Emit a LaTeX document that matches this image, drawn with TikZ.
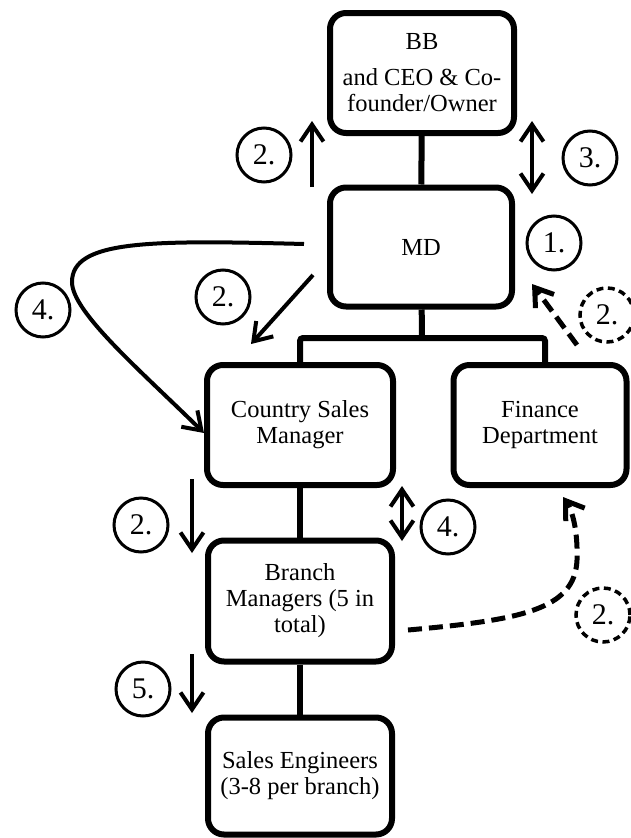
\documentclass[tikz,border=0pt]{standalone}
\usepackage{fontspec}
\setmainfont{Liberation Serif}
\usetikzlibrary{arrows.meta}

\tikzset{
  orgbox/.style={draw,line width=6pt,rounded corners=16pt,align=center,inner sep=3pt,
    font=\fontsize{24.5}{26}\selectfont},
  numcirc/.style={draw,circle,line width=3pt,minimum size=54pt,inner sep=0pt,
    font=\fontsize{30}{32}\selectfont},
  numdash/.style={numcirc,line width=3.5pt,dash pattern=on 7pt off 4.5pt},
  flow/.style={line width=4pt,-{Straight Barb[length=17pt,width=23pt]}},
  flowboth/.style={line width=4pt,{Straight Barb[length=17pt,width=23pt]}-{Straight Barb[length=17pt,width=23pt]}},
  flowdash/.style={line width=5pt,dash pattern=on 14pt off 7pt,-{Straight Barb[length=17pt,width=23pt]}},
}

\begin{document}
\begin{tikzpicture}[x=1pt,y=-1pt]
\useasboundingbox (0,0) rectangle (631,838);

% boxes
\node[orgbox,minimum width=184pt,minimum height=120pt] (bb) at (422,73) {BB\\[10pt]and CEO \& Co-\\founder/Owner};
\node[orgbox,minimum width=182pt,minimum height=119pt] (md) at (421,247) {MD};
\node[orgbox,minimum width=186pt,minimum height=120pt] (csm) at (300,425) {Country Sales\\Manager};
\node[orgbox,minimum width=173pt,minimum height=120pt] (fin) at (540,425) {Finance\\Department};
\node[orgbox,minimum width=184pt,minimum height=121pt] (bm) at (300,601) {Branch\\Managers (5 in\\total)};
\node[orgbox,minimum width=184pt,minimum height=117pt] (se) at (300,776) {Sales Engineers\\(3-8 per branch)};

% tree lines
\coordinate (bar) at (422,338);
\draw[line width=6pt] (bb) -- (md);
\draw[line width=6pt] (md) -- (bar);
\draw[line width=6pt,rounded corners=3pt] (csm.north) |- (bar) -| ([xshift=5pt]fin.north);
\draw[line width=6pt] (csm) -- (bm);
\draw[line width=6pt] (bm) -- (se);

% numbers
\node[numcirc] (n2a) at (264,155) {2.};
\node[numcirc] (n3) at (590,158) {3.};
\node[numcirc] (n1) at (554,243) {1.};
\node[numcirc] (n2b) at (223,297) {2.};
\node[numcirc] (n4a) at (43,310) {4.};
\node[numdash] (n2c) at (607,315) {2.};
\node[numcirc] (n2d) at (141,525) {2.};
\node[numcirc] (n4b) at (448,527) {4.};
\node[numdash] (n2e) at (603,615) {2.};
\node[numcirc] (n5) at (143,689) {5.};

% arrows
\coordinate (up1) at (312,187);
\coordinate (up2) at (312,121);
\draw[flow] (up1) -- (up2);

\coordinate (tw1) at (532,194);
\coordinate (tw2) at (532,121);
\draw[flowboth] (tw1) -- (tw2);

\coordinate (dg1) at (313,275);
\coordinate (dg2) at (251,344);
\draw[flow] (dg1) -- (dg2);

\coordinate (cv1) at (304,244);
\coordinate (cv2) at (72,282);
\draw[flow] (cv1) .. controls (150,240) and (72,240) .. (cv2)
  .. controls (72,312) and (140,370) .. ([yshift=-8pt]csm.west);

\coordinate (fd1) at (577,345);
\coordinate (fd2) at (532,284);
\draw[flowdash] (fd1) -- (fd2);

\coordinate (dn1) at (192,479);
\coordinate (dn2) at (192,553);
\draw[flow] (dn1) -- (dn2);

\coordinate (tb1) at (402,486);
\coordinate (tb2) at (402,541);
\draw[flowboth] (tb1) -- (tb2);

\coordinate (bf1) at (408,630);
\coordinate (bf2) at (577,560);
\coordinate (bf3) at (563,497);
\draw[flowdash] (bf1) .. controls (520,620) and (575,610) .. (bf2)
  .. controls (578,530) and (572,510) .. (bf3);

\coordinate (dn3) at (192,654);
\coordinate (dn4) at (192,713);
\draw[flow] (dn3) -- (dn4);
\end{tikzpicture}
\end{document}
